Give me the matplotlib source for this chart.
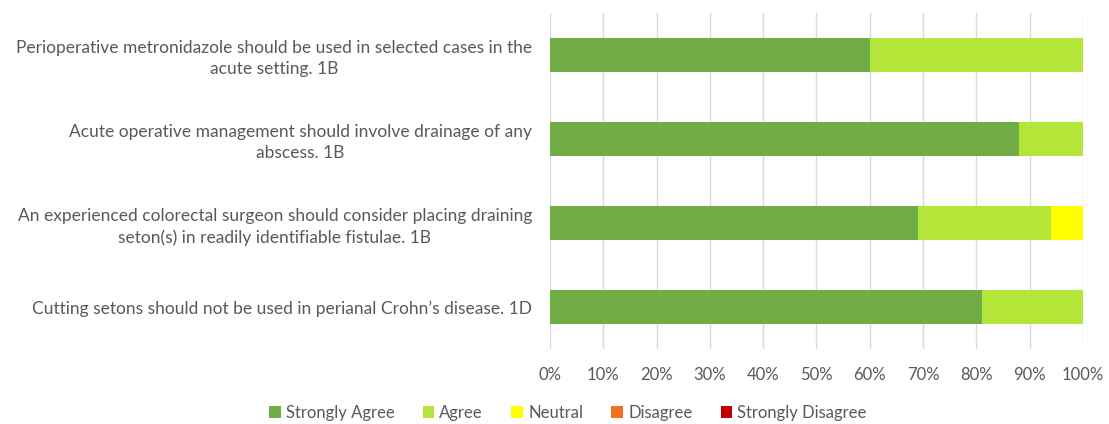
import matplotlib.pyplot as plt
import numpy as np

plt.rcParams['font.family'] = ['Lato', 'DejaVu Sans']

statements = [
    "Perioperative metronidazole should be used in selected cases in the\nacute setting. 1B",
    "Acute operative management should involve drainage of any\nabscess. 1B",
    "An experienced colorectal surgeon should consider placing draining\nseton(s) in readily identifiable fistulae. 1B",
    "Cutting setons should not be used in perianal Crohn\u2019s disease. 1D",
]
responses = ["Strongly Agree", "Agree", "Neutral", "Disagree", "Strongly Disagree"]
strongly_agree = [60, 88, 69, 81]
agree = [40, 12, 25, 19]
neutral = [0, 0, 6, 0]
disagree = [0, 0, 0, 0]
strongly_disagree = [0, 0, 0, 0]
colors = ["#70AD47", "#B3E639", "#FFFF00", "#F4701E", "#C00000"]

series = [strongly_agree, agree, neutral, disagree, strongly_disagree]

fig = plt.figure(figsize=(11.09, 4.24), dpi=100)
ax = fig.add_axes([0.4959, 0.1769, 0.4806, 0.7925])

y = np.arange(len(statements))
left = np.zeros(len(statements))
for name, vals, c in zip(responses, series, colors):
    vals = np.array(vals, dtype=float) / 100
    ax.barh(y, vals, left=left, height=0.4, color=c, label=name, zorder=2)
    left += vals

ax.set_ylim(len(statements) - 0.5, -0.5)
ax.set_xlim(0, 1)
ax.set_xticks(np.linspace(0, 1, 11))
ax.set_xticklabels([f"{int(v)}%" for v in np.linspace(0, 100, 11)])
ax.set_yticks(y)
ax.set_yticklabels(statements, fontsize=12.5)
for lbl in ax.get_yticklabels():
    lbl.set_multialignment('center')
    lbl.set_linespacing(1.35)

ax.grid(axis='x', color='#D9D9D9', linewidth=1, zorder=0)
for s in ax.spines.values():
    s.set_visible(False)
ax.tick_params(axis='both', length=0, labelcolor='#595959')
ax.tick_params(axis='x', labelsize=12, pad=13)
ax.tick_params(axis='y', pad=13)

fig.legend(loc='center', bbox_to_anchor=(0.512, 0.026), ncol=5, frameon=False,
           fontsize=12, labelcolor='#595959', handlelength=0.7, handleheight=0.7,
           handletextpad=0.3, columnspacing=1.7)

fig.savefig("out.png", dpi=100)
